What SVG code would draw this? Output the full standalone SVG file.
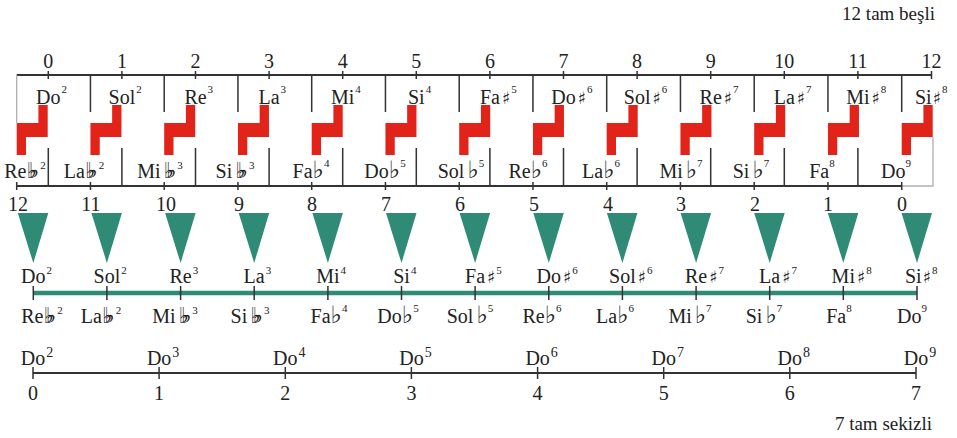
<svg xmlns="http://www.w3.org/2000/svg" width="957" height="438" viewBox="0 0 957 438">
<style>
text{font-family:'Liberation Serif','DejaVu Serif',serif;font-size:20px;fill:#222}
.m{text-anchor:middle}
.e{text-anchor:end}
.s{font-size:11px}
.s2{font-size:14px}
.sh{font-family:'DejaVu Sans',sans-serif;font-size:17px}
.fl{font-family:'DejaVu Sans',sans-serif;font-size:24px}
.ff{font-family:'DejaVu Sans',sans-serif;font-size:22px;letter-spacing:-8px}
.ln{stroke:#333;stroke-width:1.8;fill:none}
.tk{stroke:#333;stroke-width:1.5;fill:none}
.lt{stroke:#b0b0b0;stroke-width:1.3;fill:none}
.red{fill:#e2231a}
.teal{fill:#2f8a76}
</style>
<defs>
<path id="z" d="M21.7 105 H31 V137 H9.3 V155 H0 V123 H21.7 Z"/>
<polygon id="tri" points="-15.5,213 15,213 0,263"/>
</defs>
<text class="e" x="935" y="20" style="font-size:19px">12 tam beşli</text>
<g id="connectors">
<path class="ln" d="M16.7 75 H932"/>
<path class="tk" d="M48.3 71V79M121.9 71V79M195.5 71V79M269.1 71V79M342.7 71V79M416.3 71V79M489.9 71V79M563.5 71V79M637.1 71V79M710.7 71V79M784.3 71V79M857.9 71V79M931.5 71V79"/>
<path class="tk" d="M90.45 75V112M164.2 75V112M237.95 75V112M311.7 75V112M385.45 75V112M459.2 75V112M532.95 75V112M606.7 75V112M680.45 75V112M754.2 75V112M827.95 75V112M901.7 75V112"/>
<path class="lt" d="M16.7 75V123M933 137V186H901.7"/>
<path class="tk" d="M48.3 148V186M121.9 148V186M195.5 148V186M269.1 148V186M342.7 148V186M416.3 148V186M489.9 148V186M563.5 148V186M637.1 148V186M710.7 148V186M784.3 148V186M857.9 148V186"/>
<path class="ln" d="M16.7 186 H901.7"/>
<path class="tk" d="M16.7 182V190M90.45 182V190M164.2 182V190M237.95 182V190M311.7 182V190M385.45 182V190M459.2 182V190M532.95 182V190M606.7 182V190M680.45 182V190M754.2 182V190M827.95 182V190M901.7 182V190"/>
<path d="M33.3 293 H917" stroke="#2f8a76" stroke-width="4.5"/>
<path class="tk" d="M33.3 286V300M106.9 286V300M180.6 286V300M254.2 286V300M327.9 286V300M401.5 286V300M475.1 286V300M548.8 286V300M622.4 286V300M696.1 286V300M769.7 286V300M843.3 286V300M917 286V300"/>
<path class="ln" d="M33 373 H916"/>
<path class="tk" d="M33 367V379M159.1 367V379M285.3 367V379M411.4 367V379M537.6 367V379M663.7 367V379M789.8 367V379M916 367V379"/>
</g>
<g id="red-steps" class="red">
<use href="#z" x="16.7"/><use href="#z" x="90.45"/><use href="#z" x="164.2"/><use href="#z" x="237.95"/><use href="#z" x="311.7"/><use href="#z" x="385.45"/><use href="#z" x="459.2"/><use href="#z" x="532.95"/><use href="#z" x="606.7"/><use href="#z" x="680.45"/><use href="#z" x="754.2"/><use href="#z" x="827.95"/><use href="#z" x="901.7"/>
</g>
<g id="teal-triangles" class="teal">
<use href="#tri" x="33.3"/><use href="#tri" x="106.9"/><use href="#tri" x="180.6"/><use href="#tri" x="254.2"/><use href="#tri" x="327.9"/><use href="#tri" x="401.5"/><use href="#tri" x="475.1"/><use href="#tri" x="548.8"/><use href="#tri" x="622.4"/><use href="#tri" x="696.1"/><use href="#tri" x="769.7"/><use href="#tri" x="843.3"/><use href="#tri" x="917"/>
</g>
<g id="top-numbers">
<text class="m" x="48.3" y="68">0</text><text class="m" x="121.9" y="68">1</text><text class="m" x="195.5" y="68">2</text><text class="m" x="269.1" y="68">3</text><text class="m" x="342.7" y="68">4</text><text class="m" x="416.3" y="68">5</text><text class="m" x="489.9" y="68">6</text><text class="m" x="563.5" y="68">7</text><text class="m" x="637.1" y="68">8</text><text class="m" x="710.7" y="68">9</text><text class="m" x="784.3" y="68">10</text><text class="m" x="857.9" y="68">11</text><text class="m" x="931.5" y="68">12</text>
</g>
<g id="top-upper-labels">
<text x="36.1" y="104">Do<tspan class="s" dx="1" dy="-11">2</tspan></text>
<text x="108.6" y="104">Sol<tspan class="s" dx="1" dy="-11">2</tspan></text>
<text x="184.4" y="104">Re<tspan class="s" dx="1" dy="-11">3</tspan></text>
<text x="258.5" y="104">La<tspan class="s" dx="1" dy="-11">3</tspan></text>
<text x="331" y="104">Mi<tspan class="s" dx="1" dy="-11">4</tspan></text>
<text x="408" y="104">Si<tspan class="s" dx="1" dy="-11">4</tspan></text>
<text x="479.9" y="104">Fa<tspan class="sh" dx="2">♯</tspan><tspan class="s" dx="1" dy="-11">5</tspan></text>
<text x="551.3" y="104">Do<tspan class="sh" dx="2">♯</tspan><tspan class="s" dx="1" dy="-11">6</tspan></text>
<text x="623.8" y="104">Sol<tspan class="sh" dx="2">♯</tspan><tspan class="s" dx="1" dy="-11">6</tspan></text>
<text x="699.6" y="104">Re<tspan class="sh" dx="2">♯</tspan><tspan class="s" dx="1" dy="-11">7</tspan></text>
<text x="773.7" y="104">La<tspan class="sh" dx="2">♯</tspan><tspan class="s" dx="1" dy="-11">7</tspan></text>
<text x="846.2" y="104">Mi<tspan class="sh" dx="2">♯</tspan><tspan class="s" dx="1" dy="-11">8</tspan></text>
<text x="915" y="104">Si<tspan class="sh" dx="1">♯</tspan><tspan class="s" dx="1" dy="-11">8</tspan></text>
</g>
<g id="top-lower-labels">
<text class="m" x="25" y="178">Re<tspan class="ff">♭♭</tspan><tspan class="s" dx="9" dy="-9">2</tspan></text>
<text class="m" x="84" y="178">La<tspan class="ff">♭♭</tspan><tspan class="s" dx="9" dy="-9">2</tspan></text>
<text class="m" x="160" y="178">Mi<tspan class="ff" dx="3">♭♭</tspan><tspan class="s" dx="9" dy="-9">3</tspan></text>
<text class="m" x="235" y="178">Si<tspan class="ff" dx="3">♭♭</tspan><tspan class="s" dx="9" dy="-9">3</tspan></text>
<text class="m" x="311" y="178">Fa<tspan class="fl">♭</tspan><tspan class="s" dy="-11">4</tspan></text>
<text class="m" x="385" y="178">Do<tspan class="fl">♭</tspan><tspan class="s" dy="-11">5</tspan></text>
<text class="m" x="461" y="178">Sol<tspan class="fl" dx="3">♭</tspan><tspan class="s" dy="-11">5</tspan></text>
<text class="m" x="528" y="178">Re<tspan class="fl">♭</tspan><tspan class="s" dy="-11">6</tspan></text>
<text class="m" x="601" y="178">La<tspan class="fl">♭</tspan><tspan class="s" dy="-11">6</tspan></text>
<text class="m" x="681" y="178">Mi<tspan class="fl" dx="3">♭</tspan><tspan class="s" dy="-11">7</tspan></text>
<text class="m" x="751" y="178">Si<tspan class="fl" dx="3">♭</tspan><tspan class="s" dy="-11">7</tspan></text>
<text class="m" x="822" y="178">Fa<tspan class="s" dy="-11">8</tspan></text>
<text class="m" x="896" y="178">Do<tspan class="s" dy="-11">9</tspan></text>
</g>
<g id="middle-numbers">
<text class="m" x="18" y="211">12</text><text class="m" x="91" y="211">11</text><text class="m" x="166" y="211">10</text><text class="m" x="239" y="211">9</text><text class="m" x="312" y="211">8</text><text class="m" x="386" y="211">7</text><text class="m" x="460" y="211">6</text><text class="m" x="534" y="211">5</text><text class="m" x="608" y="211">4</text><text class="m" x="681" y="211">3</text><text class="m" x="755" y="211">2</text><text class="m" x="828" y="211">1</text><text class="m" x="902" y="211">0</text>
</g>
<g id="middle-upper-labels">
<text x="21.1" y="283">Do<tspan class="s" dx="1" dy="-9">2</tspan></text>
<text x="93.6" y="283">Sol<tspan class="s" dx="1" dy="-9">2</tspan></text>
<text x="169.5" y="283">Re<tspan class="s" dx="1" dy="-9">3</tspan></text>
<text x="243.6" y="283">La<tspan class="s" dx="1" dy="-9">3</tspan></text>
<text x="316.2" y="283">Mi<tspan class="s" dx="1" dy="-9">4</tspan></text>
<text x="393.2" y="283">Si<tspan class="s" dx="1" dy="-9">4</tspan></text>
<text x="465.1" y="283">Fa<tspan class="sh" dx="2">♯</tspan><tspan class="s" dx="1" dy="-9">5</tspan></text>
<text x="536.6" y="283">Do<tspan class="sh" dx="2">♯</tspan><tspan class="s" dx="1" dy="-9">6</tspan></text>
<text x="609.1" y="283">Sol<tspan class="sh" dx="2">♯</tspan><tspan class="s" dx="1" dy="-9">6</tspan></text>
<text x="685" y="283">Re<tspan class="sh" dx="2">♯</tspan><tspan class="s" dx="1" dy="-9">7</tspan></text>
<text x="759.1" y="283">La<tspan class="sh" dx="2">♯</tspan><tspan class="s" dx="1" dy="-9">7</tspan></text>
<text x="831.6" y="283">Mi<tspan class="sh" dx="2">♯</tspan><tspan class="s" dx="1" dy="-9">8</tspan></text>
<text x="905" y="283">Si<tspan class="sh" dx="1">♯</tspan><tspan class="s" dx="1" dy="-9">8</tspan></text>
</g>
<g id="middle-lower-labels">
<text class="m" x="42" y="323">Re<tspan class="ff">♭♭</tspan><tspan class="s" dx="9" dy="-9">2</tspan></text>
<text class="m" x="101" y="323">La<tspan class="ff">♭♭</tspan><tspan class="s" dx="9" dy="-9">2</tspan></text>
<text class="m" x="175" y="323">Mi<tspan class="ff" dx="3">♭♭</tspan><tspan class="s" dx="9" dy="-9">3</tspan></text>
<text class="m" x="250" y="323">Si<tspan class="ff" dx="3">♭♭</tspan><tspan class="s" dx="9" dy="-9">3</tspan></text>
<text class="m" x="329" y="323">Fa<tspan class="fl">♭</tspan><tspan class="s" dy="-11">4</tspan></text>
<text class="m" x="398" y="323">Do<tspan class="fl">♭</tspan><tspan class="s" dy="-11">5</tspan></text>
<text class="m" x="470" y="323">Sol<tspan class="fl" dx="3">♭</tspan><tspan class="s" dy="-11">5</tspan></text>
<text class="m" x="542" y="323">Re<tspan class="fl">♭</tspan><tspan class="s" dy="-11">6</tspan></text>
<text class="m" x="615" y="323">La<tspan class="fl">♭</tspan><tspan class="s" dy="-11">6</tspan></text>
<text class="m" x="690" y="323">Mi<tspan class="fl" dx="3">♭</tspan><tspan class="s" dy="-11">7</tspan></text>
<text class="m" x="764" y="323">Si<tspan class="fl" dx="3">♭</tspan><tspan class="s" dy="-11">7</tspan></text>
<text class="m" x="839" y="323">Fa<tspan class="s" dy="-11">8</tspan></text>
<text class="m" x="912" y="323">Do<tspan class="s" dy="-11">9</tspan></text>
</g>
<g id="bottom-labels">
<text x="20.8" y="365">Do<tspan class="s2" dx="1" dy="-8">2</tspan></text>
<text x="146.9" y="365">Do<tspan class="s2" dx="1" dy="-8">3</tspan></text>
<text x="273.1" y="365">Do<tspan class="s2" dx="1" dy="-8">4</tspan></text>
<text x="399.2" y="365">Do<tspan class="s2" dx="1" dy="-8">5</tspan></text>
<text x="525.4" y="365">Do<tspan class="s2" dx="1" dy="-8">6</tspan></text>
<text x="651.5" y="365">Do<tspan class="s2" dx="1" dy="-8">7</tspan></text>
<text x="777.6" y="365">Do<tspan class="s2" dx="1" dy="-8">8</tspan></text>
<text x="903.8" y="365">Do<tspan class="s2" dx="1" dy="-8">9</tspan></text>
</g>
<g id="bottom-numbers">
<text class="m" x="33" y="400">0</text><text class="m" x="159.1" y="400">1</text><text class="m" x="285.3" y="400">2</text><text class="m" x="411.4" y="400">3</text><text class="m" x="537.6" y="400">4</text><text class="m" x="663.7" y="400">5</text><text class="m" x="789.8" y="400">6</text><text class="m" x="916" y="400">7</text>
</g>
<text class="e" x="932" y="430" style="font-size:19px">7 tam sekizli</text>
</svg>
